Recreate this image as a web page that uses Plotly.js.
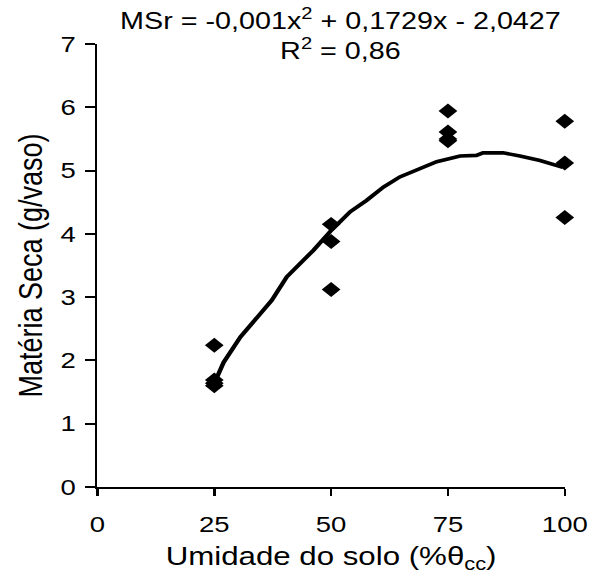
<!DOCTYPE html>
<html>
<head>
<meta charset="utf-8">
<script src="https://cdn.plot.ly/plotly-3.0.1.min.js"></script>
<style>
html,body{margin:0;padding:0;background:#fff;overflow:hidden}
#chart{width:473px;height:581px;transform:scaleX(1.2495);transform-origin:0 0}
</style>
</head>
<body>
<div id="chart"></div>
<script>
const obsX = [25, 25, 25, 25, 50, 50, 50, 75, 75, 75, 75, 100, 100, 100];
const obsY = [2.24, 1.69, 1.64, 1.60, 4.15, 3.88, 3.12, 5.94, 5.61, 5.50, 5.47, 5.78, 5.12, 4.26];
const curveX = [25.5, 27.0, 30.6, 34.8, 37.3, 40.5, 46.2, 50.1, 54.1, 57.6, 61.2, 64.7, 69.0, 72.6, 77.6, 81.1, 82.5, 86.8, 90.4, 94.7, 99.6];
const curveY = [1.72, 1.97, 2.37, 2.74, 2.95, 3.32, 3.74, 4.06, 4.35, 4.53, 4.74, 4.90, 5.03, 5.14, 5.23, 5.24, 5.28, 5.28, 5.23, 5.16, 5.05];
const xTicks = [0, 25, 50, 75, 100];
const yTicks = [0, 1, 2, 3, 4, 5, 6, 7];
const titleText = 'MSr = -0,001x<sup>2</sup> + 0,1729x - 2,0427<br>R<sup>2</sup> = 0,86';
const xTitle = 'Umidade do solo (%θ<sub>cc</sub>)';
const yTitle = 'Matéria Seca (g/vaso)';

const font = '"Liberation Sans", Arial, sans-serif';
Plotly.newPlot('chart', [
  {x: curveX, y: curveY, mode: 'lines', type: 'scatter', line: {color: '#000', width: 3.6}, hoverinfo: 'skip', cliponaxis: false},
  {x: obsX, y: obsY, mode: 'markers', type: 'scatter', marker: {symbol: 'diamond', size: 11.5, color: '#000'}, cliponaxis: false}
], {
  width: 473, height: 581,
  margin: {l: 78, r: 21, t: 44, b: 94},
  showlegend: false,
  paper_bgcolor: '#fff', plot_bgcolor: '#fff',
  font: {family: font, color: '#000', size: 22},
  title: {text: titleText, x: 0.576, xanchor: 'center', yref: 'container', y: 0.95, yanchor: 'top', font: {family: font, size: 23, color: '#000'}},
  xaxis: {
    range: [0, 100], tickvals: xTicks, ticktext: xTicks.map(String),
    showgrid: false, zeroline: false, showline: true, linecolor: '#000', linewidth: 2,
    ticks: 'outside', ticklen: 7, tickwidth: 2, tickcolor: '#000', ticklabelstandoff: 10,
    tickfont: {family: font, size: 22}, title: {text: xTitle, font: {family: font, size: 25}, standoff: 11}
  },
  yaxis: {
    range: [0, 7], tickvals: yTicks, ticktext: yTicks.map(String),
    showgrid: false, zeroline: false, showline: true, linecolor: '#000', linewidth: 2,
    ticks: 'outside', ticklen: 8, tickwidth: 2, tickcolor: '#000', ticklabelstandoff: 3,
    tickfont: {family: font, size: 22}, title: {text: yTitle, font: {family: font, size: 27}, standoff: 6}
  }
}, {displayModeBar: false, staticPlot: true});
</script>
</body>
</html>
